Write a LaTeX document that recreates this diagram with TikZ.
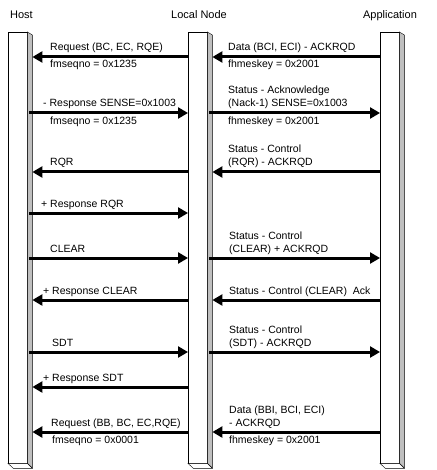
\documentclass[tikz,border=0pt]{standalone}
\usepackage{fontspec}
\setmainfont{Liberation Sans}
\usetikzlibrary{arrows.meta}

\tikzset{
  bar/.style={draw, fill=white, minimum width=19pt, minimum height=431pt,
    inner sep=0pt, anchor=north west},
  msg/.style={line width=3pt, -{Triangle[length=10pt,width=11pt]}},
  send/.style={msg, shorten <=-3pt},
  lbl/.style={anchor=base west, inner sep=0pt, align=left,
    font=\fontsize{10.5}{13}\selectfont},
  head/.style={anchor=base, inner sep=0pt, font=\fontsize{11}{13}\selectfont},
}

\begin{document}
\begin{tikzpicture}[x=1pt,y=-1pt]
\useasboundingbox (0,0) rectangle (436,470);
% Draw the lifelines
\foreach \name/\xpos in {host/8,local/188,app/380}{
  \node[bar] (\name) at (\xpos,32) {};
  \draw[fill=gray!50] (\name.north east) -- ++(5,3) -- ++(0,433)
    -- (\name.south east) -- cycle;
  \draw[fill=white] (\name.south west) -- (\name.south east) -- ++(5,5)
    -- ++(-19,0) -- cycle;
}
\coordinate (h) at ([xshift=5pt]host.north east);
\coordinate (l) at (local.north west);
\coordinate (lr) at ([xshift=5pt]local.north east);
\coordinate (a) at (app.north west);

% Draw headers
\node[head] (thost) at (21.5,19) {Host};
\node[head] (tlocal) at (199,19) {Local Node};
\node[head] (tapp) at (390,19) {Application};

% Request (BC, EC, RQE)
\draw[msg] (l |- 0,57) -- (h |- 0,57);
\node[lbl] (req1) at (50,51) {Request (BC, EC, RQE)};
\node[lbl] (seq1) at (50,68) {fmseqno = 0x1235};
\draw[msg] (a |- 0,57) -- (lr |- 0,57);
\node[lbl] (data1) at (228,51) {Data (BCI, ECI) - ACKRQD};
\node[lbl] (key1) at (228,68) {fhmeskey = 0x2001};

% Negative response
\draw[send] (h |- 0,113) -- (l |- 0,113);
\node[lbl] (nrsp) at (43,107) {- Response SENSE=0x1003};
\node[lbl] (seq2) at (50,125) {fmseqno = 0x1235};
\draw[send] (lr |- 0,113) -- (a |- 0,113);
\node[lbl] (nack) at (228,107) {Status - Acknowledge\\(Nack-1) SENSE=0x1003};
\node[lbl] (key2) at (228,125) {fhmeskey = 0x2001};

% RQR
\draw[msg] (l |- 0,172) -- (h |- 0,172);
\node[lbl] (rqr) at (50,166) {RQR};
\draw[msg] (a |- 0,172) -- (lr |- 0,172);
\node[lbl] (ctlrqr) at (228,166) {Status - Control\\(RQR) - ACKRQD};

\draw[send] (h |- 0,213) -- (l |- 0,213);
\node[lbl] (prqr) at (41,207) {+ Response RQR};

% CLEAR
\draw[send] (h |- 0,258) -- (l |- 0,258);
\node[lbl] (clear) at (50,252) {CLEAR};
\draw[send] (lr |- 0,258) -- (a |- 0,258);
\node[lbl] (ctlclear) at (229,252) {Status - Control\\(CLEAR) + ACKRQD};

\draw[msg] (l |- 0,300) -- (h |- 0,300);
\node[lbl] (pclear) at (43,294) {+ Response CLEAR};
\draw[msg] (a |- 0,300) -- (lr |- 0,300);
\node[lbl] (ackclear) at (229,294) {Status - Control (CLEAR)~ Ack};

% SDT
\draw[send] (h |- 0,352) -- (l |- 0,352);
\node[lbl] (sdt) at (52,346) {SDT};
\draw[send] (lr |- 0,352) -- (a |- 0,352);
\node[lbl] (ctlsdt) at (229,346) {Status - Control\\(SDT) - ACKRQD};

\draw[msg] (l |- 0,387) -- (h |- 0,387);
\node[lbl] (psdt) at (43,381) {+ Response SDT};

% Request (BB, BC, EC, RQE)
\draw[msg] (l |- 0,432) -- (h |- 0,432);
\node[lbl] (req2) at (51,426) {Request (BB, BC, EC,RQE)};
\node[lbl] (seq3) at (52,443) {fmseqno = 0x0001};
\draw[msg] (a |- 0,432) -- (lr |- 0,432);
\node[lbl] (data2) at (229,426) {Data (BBI, BCI, ECI)\\- ACKRQD};
\node[lbl] (key3) at (229,443) {fhmeskey = 0x2001};
\end{tikzpicture}
\end{document}
